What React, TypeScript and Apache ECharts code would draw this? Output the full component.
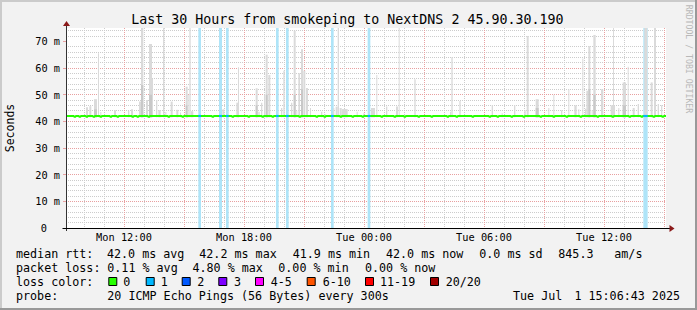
import React, { useEffect, useRef } from 'react';
import * as echarts from 'echarts';

// ---------- data ----------
const TITLE = 'Last 30 Hours from smokeping to NextDNS 2 45.90.30.190';
// x values are minutes since Mon 00:00
const X_START = 546; // Mon 09:06
const X_END = 2346; // Tue 15:06
const X_STEP = 6; // tick step in minutes (hour lines fall on every 10th tick)
const xLabelTimes = [720, 1080, 1440, 1800, 2160];
const xLabelTexts = ['Mon 12:00', 'Mon 18:00', 'Tue 00:00', 'Tue 06:00', 'Tue 12:00'];
const Y_MAX = 75;
const yTickValues = [0, 10, 20, 30, 40, 50, 60, 70];

const MEDIAN = 42.0;
const MEDIAN_DIP = 41.7;
const medianDipTimes = [570, 585, 606, 627, 648, 678, 699, 744, 759, 792, 852, 894, 984, 1044, 1092, 1134, 1164,
  1245, 1296, 1320, 1368, 1404, 1434, 1491, 1530, 1560, 1602, 1641, 1689, 1716, 1764, 1815, 1839, 1881, 1917,
  1968, 2007, 2046, 2088, 2139, 2184, 2235, 2271, 2307, 2334];

const SMOKE_BASE = 41.5;
// [start minute, duration minutes, top (ms), dense top (ms, 0 = none)]
const smokeSpikes: [number, number, number, number][] = [
  [606, 6, 45.3, 0], [616, 6, 45.7, 0], [630, 9, 48.3, 44.5], [642, 3, 65.5, 0], [649, 3, 43.5, 0],
  [690, 6, 44.2, 0], [732, 4, 44, 0], [741, 6, 44.5, 0], [765, 6, 47.4, 0], [771, 7, 75, 53.6],
  [786, 6, 48, 0], [795, 9, 69, 50], [804, 3, 56, 0], [816, 4, 48, 0], [823, 7, 44.2, 0],
  [837, 4, 75, 0], [844, 3, 43.5, 0], [860, 6, 47.4, 0], [877, 6, 44.3, 0], [888, 3, 43.3, 0],
  [905, 6, 53, 46], [911, 3, 50, 0], [916, 4, 75, 0], [921, 7, 43.8, 0], [1015, 6, 44.5, 0],
  [1057, 8, 47, 0], [1062, 3, 60.3, 0], [1115, 6, 52.4, 46], [1123, 4, 43.6, 0], [1131, 4, 47, 0],
  [1140, 3, 50, 0], [1145, 6, 65, 50], [1153, 6, 57.4, 0], [1191, 4, 45, 0], [1198, 4, 59, 0],
  [1221, 4, 47, 0], [1229, 6, 74, 50], [1237, 3, 44, 0], [1243, 5, 58, 0], [1251, 6, 67, 52],
  [1258, 6, 59, 0], [1266, 6, 52.5, 0], [1278, 3, 45, 0], [1311, 4, 43.6, 0], [1323, 3, 42.6, 0],
  [1348, 3, 45, 0], [1355, 6, 45.5, 0], [1361, 4, 75, 0], [1367, 6, 45, 0], [1373, 18, 44.6, 0],
  [1418, 3, 43.6, 0], [1438, 3, 43, 0], [1461, 12, 45, 0], [1477, 3, 57.4, 0], [1506, 4, 45.6, 0],
  [1536, 6, 45.6, 0], [1544, 3, 75, 0], [1591, 4, 55.8, 0], [1698, 3, 43.6, 0], [1702, 4, 64, 0],
  [1726, 4, 47.6, 0], [1823, 4, 46, 0], [1853, 3, 43, 0], [1890, 4, 46, 0], [1921, 4, 44.2, 0],
  [1928, 6, 72, 0], [1955, 9, 48.3, 45], [1993, 3, 45, 0], [2008, 3, 50, 0], [2031, 4, 44.2, 0],
  [2053, 3, 52, 0], [2071, 7, 46, 0], [2083, 3, 44.5, 0], [2095, 3, 63.6, 0], [2103, 4, 44.7, 0],
  [2107, 5, 51.5, 0], [2113, 6, 68.2, 52], [2123, 3, 44.2, 0], [2128, 7, 72.4, 50], [2151, 7, 52, 0],
  [2180, 13, 46, 0], [2187, 3, 75, 0], [2203, 3, 45, 0], [2216, 10, 54.6, 46], [2231, 3, 60.5, 0],
  [2246, 6, 45, 0], [2261, 4, 46.5, 0], [2281, 9, 75, 0], [2300, 6, 54.6, 0], [2310, 6, 75, 0],
  [2321, 4, 46.5, 0], [2331, 4, 46, 0],
];

// loss events: start minute, duration minutes, loss class index
const lossStart = [943, 1005, 1026, 1176, 1206, 1341, 1451, 2278];
const lossDur = [8, 9, 8, 8, 8, 8, 8, 13];
const lossLevel = [1, 1, 1, 1, 1, 1, 1, 1];

const lossLabels = ['0', '1', '2', '3', '4-5', '6-10', '11-19', '20/20'];
const lossColors = ['#26ff00', '#00b8ff', '#0059ff', '#7e00ff', '#ff00ff', '#ff5500', '#ff0000', '#a10000'];

const statsRtt = ['median rtt:', '42.0 ms avg', '42.2 ms max', '41.9 ms min', '42.0 ms now', '0.0 ms sd', '845.3', 'am/s'];
const statsLoss = ['packet loss:', '0.11 % avg', '4.80 % max', '0.00 % min', '0.00 % now'];
const lossColorTitle = 'loss color:';
const probeTexts = ['probe:', '20 ICMP Echo Pings (56 Bytes) every 300s'];
const stampTexts = ['Tue Jul', '1 15:06:43 2025'];
const Y_TITLE = 'Seconds';
const WATERMARK = 'RRDTOOL / TOBI OETIKER';

// ---------- style / layout ----------
const MONO = '"DejaVu Sans Mono", monospace';
const MAJOR = '#e8a0a0';
const MINOR = '#cccccc';
const NONE = 'rgba(0,0,0,0)';
const GL = 66, GT = 28, GW = 600, GH = 200;
const AX = 66.5; // drawn y-axis line

// split line colours along the x ticks (tick i is X_START + i*X_STEP): hour -> grey, every 3 h -> red
const xGridColors: string[] = [];
for (let i = 0; i < 30; i++) xGridColors.push(i % 10 === 9 ? (i === 29 ? MAJOR : MINOR) : NONE);

export default function App() {
  const ref = useRef<HTMLDivElement>(null);
  useEffect(() => {
    const el = ref.current;
    if (!el) return;
    const chart = echarts.init(el, null, { renderer: 'svg' });

    const medianData: number[][] = [[X_START, MEDIAN]];
    medianDipTimes.forEach((t) => {
      medianData.push([t, MEDIAN], [t, MEDIAN_DIP], [t + 5, MEDIAN_DIP], [t + 5, MEDIAN]);
    });
    medianData.push([X_END, MEDIAN]);

    const lossData = lossStart.map((t, i) => [t, lossDur[i], lossLevel[i]]);

    const txt = (text: string, x: number, y: number, size: number, extra: any = {}) => ({
      type: 'text', x, y, z: 50,
      style: { text, font: `${size}px ${MONO}`, fill: '#000', align: 'left', verticalAlign: 'middle', ...extra.style },
      ...(extra.rotation !== undefined ? { rotation: extra.rotation } : {}),
    });

    const rttX = [16, 107, 199.3, 292.7, 386, 479.3, 558.3, 614.3];
    const lossX = [16, 107.3, 192.5, 278.3, 365];
    const sqX = [108.3, 145.7, 181.7, 218.3, 255, 306.7, 365, 430];
    const sqTextX = [123.3, 160.7, 197.3, 234, 270.7, 322.7, 380, 445.7];
    const LS = 11.7;
    const right = GL + GW;
    const bottom = GT + GH;

    const graphics: any[] = [
      // frame
      { type: 'rect', shape: { x: 0, y: 0, width: 697, height: 2 }, style: { fill: '#cbcbcb' }, z: 60 },
      { type: 'rect', shape: { x: 0, y: 0, width: 2, height: 310 }, style: { fill: '#cbcbcb' }, z: 60 },
      { type: 'rect', shape: { x: 0, y: 308, width: 697, height: 2 }, style: { fill: '#999999' }, z: 60 },
      { type: 'rect', shape: { x: 695, y: 0, width: 2, height: 310 }, style: { fill: '#999999' }, z: 60 },
      // axes
      { type: 'line', shape: { x1: AX, y1: bottom + 3, x2: AX, y2: GT - 3 }, style: { stroke: '#333', lineWidth: 1 }, z: 40 },
      { type: 'line', shape: { x1: AX - 4, y1: bottom + 0.5, x2: right + 4, y2: bottom + 0.5 }, style: { stroke: '#000', lineWidth: 1 }, z: 40 },
      { type: 'polygon', shape: { points: [[AX - 3.5, GT - 2], [AX + 3.5, GT - 2], [AX, GT - 7]] }, style: { fill: '#8b1a1a' }, z: 41 },
      { type: 'polygon', shape: { points: [[right + 3.5, bottom - 3], [right + 3.5, bottom + 4], [right + 8.5, bottom + 0.5]] }, style: { fill: '#8b1a1a' }, z: 41 },
      // title
      txt(TITLE, 347.3, 19, 13.3, { style: { align: 'center' } }),
      txt(Y_TITLE, 10, 128, 11.5, { rotation: Math.PI / 2, style: { align: 'center' } }),
      txt(WATERMARK, 689, 59, 8.2, { rotation: -Math.PI / 2, style: { align: 'center', fill: '#b8b8b8' } }),
    ];
    statsRtt.forEach((s, i) => graphics.push(txt(s, rttX[i], 254, LS)));
    statsLoss.forEach((s, i) => graphics.push(txt(s, lossX[i], 268, LS)));
    graphics.push(txt(lossColorTitle, 16, 282, LS));
    lossLabels.forEach((s, i) => {
      graphics.push({ type: 'rect', z: 50, shape: { x: sqX[i] + 0.5, y: 277.5, width: 8, height: 8 }, style: { fill: lossColors[i], stroke: '#000', lineWidth: 1 } });
      graphics.push(txt(s, sqTextX[i], 282, LS));
    });
    graphics.push(txt(probeTexts[0], 16, 296, LS));
    graphics.push(txt(probeTexts[1], 107.3, 296, LS));
    graphics.push(txt(stampTexts[0], 513, 296, LS));
    graphics.push(txt(stampTexts[1], 680, 296, LS, { style: { align: 'right' } }));

    chart.setOption({
      animation: false,
      backgroundColor: '#f2f2f2',
      grid: { left: GL, top: GT, width: GW, height: GH, show: true, backgroundColor: '#ffffff', borderWidth: 0 },
      xAxis: {
        type: 'value', min: X_START, max: X_END, interval: X_STEP,
        axisLine: { show: false }, axisTick: { show: false },
        axisLabel: {
          customValues: xLabelTimes,
          formatter: (v: number) => { const i = xLabelTimes.indexOf(v); return i >= 0 ? xLabelTexts[i] : ''; },
          fontFamily: MONO, fontSize: 10.3, color: '#000', margin: 4,
        },
        splitLine: { show: true, showMaxLine: false, lineStyle: { color: xGridColors, type: [1, 1], width: 1 } },
      },
      yAxis: [
        {
          type: 'value', min: 0, max: Y_MAX, interval: 10,
          axisLine: { show: false },
          axisTick: { show: true, length: 3, customValues: yTickValues, lineStyle: { color: MAJOR } },
          axisLabel: {
            customValues: yTickValues,
            formatter: (v: number) => (v === 0 ? '{z|0}' : v >= Y_MAX ? '' : `${v} m`),
            fontFamily: MONO, fontSize: 10.3, color: '#000', margin: 6,
            rich: { z: { fontFamily: MONO, fontSize: 10.3, color: '#000', padding: [0, 13, 0, 0] } },
          },
          splitLine: { show: true, showMaxLine: false, lineStyle: { color: MAJOR, type: [1, 1], width: 1 } },
        },
        {
          type: 'value', min: 0, max: Y_MAX, interval: 2, position: 'left',
          axisLine: { show: false }, axisTick: { show: false }, axisLabel: { show: false },
          splitLine: { show: true, showMaxLine: false, lineStyle: { color: [NONE, MINOR, MINOR, MINOR, MINOR], type: [1, 1], width: 1 } },
        },
      ],
      series: [
        {
          type: 'custom', name: 'lossbg', z: 2, silent: true, clip: true,
          encode: { x: 0, y: 2 },
          data: lossData,
          renderItem: (_p: any, api: any) => {
            const t = api.value(0), d = api.value(1);
            const a = api.coord([t, 0]);
            const b = api.coord([t + d, Y_MAX]);
            return { type: 'rect', shape: { x: a[0], y: b[1], width: b[0] - a[0], height: a[1] - b[1] }, style: { fill: '#aee4f8' } };
          },
        },
        {
          type: 'custom', name: 'smoke', z: 3, silent: true, clip: true,
          encode: { x: 0, y: 2 },
          data: smokeSpikes,
          renderItem: (_p: any, api: any) => {
            const t = api.value(0), d = api.value(1), top = api.value(2), dense = api.value(3);
            const a = api.coord([t, SMOKE_BASE]);
            const b = api.coord([t + d, Math.min(top, Y_MAX)]);
            const w = Math.max(b[0] - a[0], 1);
            const children: any[] = [
              { type: 'rect', shape: { x: a[0], y: b[1], width: w, height: a[1] - b[1] }, style: { fill: '#dadada' } },
            ];
            if (dense > 0) {
              const c = api.coord([t, dense]);
              children.push({ type: 'rect', shape: { x: a[0], y: c[1], width: w, height: a[1] - c[1] }, style: { fill: '#c8c8c8' } });
            }
            return { type: 'group', children };
          },
        },
        {
          type: 'line', name: 'median', z: 4, silent: true, symbol: 'none',
          data: medianData,
          lineStyle: { color: lossColors[0], width: 2 },
        },
        {
          type: 'custom', name: 'lossmark', z: 5, silent: true, clip: true,
          encode: { x: 0, y: 2 },
          data: lossData,
          renderItem: (_p: any, api: any) => {
            const t = api.value(0), d = api.value(1), lv = api.value(2);
            const a = api.coord([t, MEDIAN - 0.4]);
            const b = api.coord([t + d, MEDIAN + 0.4]);
            return { type: 'rect', shape: { x: a[0], y: b[1], width: b[0] - a[0], height: a[1] - b[1] }, style: { fill: lossColors[lv] } };
          },
        },
      ],
      graphic: graphics,
    });

    return () => chart.dispose();
  }, []);
  return <div ref={ref} style={{ position: 'fixed', left: 0, top: 0, width: 697, height: 310 }} />;
}
